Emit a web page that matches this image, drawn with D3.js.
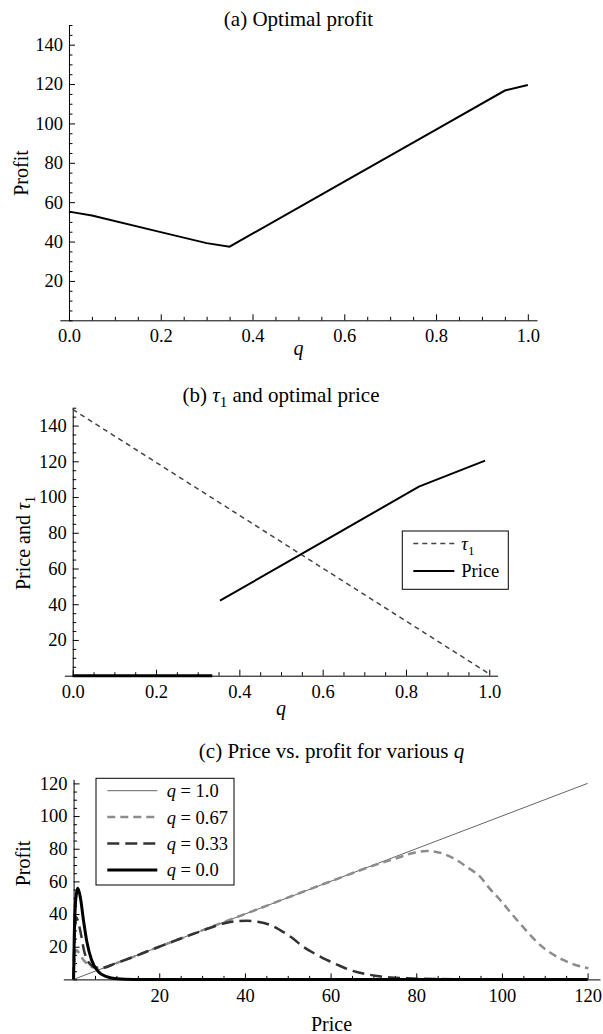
<!DOCTYPE html>
<html>
<head>
<meta charset="utf-8">
<script src="https://cdn.jsdelivr.net/npm/d3@7"></script>
<style>
  body { margin: 0; background: #fff; }
  svg text { font-family: 'Liberation Serif', 'Times New Roman', serif; fill: #000; }
</style>
</head>
<body>
<svg id="chart" width="603" height="1034"></svg>
<script>
// (a) optimal profit vs q
const qA = [0, 0.05, 0.2, 0.3, 0.35, 0.6, 0.8, 0.95, 1.0];
const profitA = [55.2, 53.2, 44.8, 39.2, 37.4, 70.5, 96.8, 116.7, 119.5];

// (b) tau1 and optimal price vs q
const qTau = [0, 1.0];
const tau1 = [149, 1];
const qPriceLow = [0, 0.335];
const priceLow = [0, 0];
const qPriceHigh = [0.3535, 0.5455, 0.831, 0.99];
const priceHigh = [42.0, 67.6, 105.8, 120.4];

// (c) price vs profit for various q
const priceQ10 = [0, 120];
const profitQ10 = [0, 120];
const priceQ067 = [0, 0.2, 0.6, 1.2, 2, 3, 4, 5, 6.5, 10, 20, 40, 60, 70, 75.4, 79, 82.4, 86, 89.4, 92, 94.9, 97, 99.6, 102, 104.2, 106.5, 108.9, 111.5, 114.3, 117, 120.2];
const profitQ067 = [0, 12, 18, 16.5, 13, 10, 8, 7, 7, 10, 20, 40, 60, 69.7, 74.2, 77.2, 78.6, 77.2, 73.1, 68.5, 62.9, 56, 48.6, 41, 34.3, 27.5, 21.1, 16, 11.9, 9, 6.8];
const priceQ033 = [0, 0.15, 0.35, 0.6, 1.0, 1.7, 2.5, 3.5, 5, 6.5, 10, 20, 30, 35, 38, 40.5, 43, 46, 48.2, 51, 53.6, 56.5, 59.1, 62, 64.5, 68, 70.8, 74, 77.8, 85, 100, 120];
const profitQ033 = [0, 20, 32, 38, 36, 28, 17, 10.5, 7.5, 7, 10, 20, 29.8, 34.2, 35.6, 35.9, 35.3, 33.2, 30.2, 25.5, 20.0, 15.5, 11.9, 8.5, 5.8, 3.4, 2.1, 1.2, 0.7, 0.2, 0, 0];
const priceQ0 = [0, 0.15, 0.4, 0.7, 1.0, 1.6, 2.3, 3.1, 4.2, 5.8, 7.7, 10.1, 14, 120];
const profitQ0 = [0, 25, 45, 53, 55.8, 50, 36.4, 23.1, 11.9, 4.7, 1.7, 0.4, 0, 0];

const qTicks = [0, 0.2, 0.4, 0.6, 0.8, 1.0];
const yTicksAB = [20, 40, 60, 80, 100, 120, 140];
const ticksC = [20, 40, 60, 80, 100, 120];
const legendB = ['τ1', 'Price'];
const legendC = ['1.0', '0.67', '0.33', '0.0'];

const svg = d3.select('#chart');
const zip = (xs, ys) => xs.map((v, i) => [v, ys[i]]);
const range = (a, b, s) => d3.range(a, b + s / 2, s);

function drawAxes(x, y, o) {
  const g = svg.append('g');
  // minor ticks first, then the major ones on top
  const minorX = range(o.minorX[0], o.minorX[1], o.minorX[2]).filter(v => !o.xTicks.some(t => Math.abs(t - v) < 1e-9));
  const minorY = range(o.minorY[0], o.minorY[1], o.minorY[2]).filter(v => !o.yTicks.some(t => Math.abs(t - v) < 1e-9));

  g.append('g').attr('transform', `translate(0,${y(0)})`)
    .call(d3.axisBottom(x).tickValues(minorX).tickSize(-3.5).tickFormat(''))
    .call(s => s.select('.domain').remove());
  g.append('g').attr('transform', `translate(${x(0)},0)`)
    .call(d3.axisLeft(y).tickValues(minorY).tickSize(-3.5).tickFormat(''))
    .call(s => s.select('.domain').remove());

  const xa = g.append('g').attr('transform', `translate(0,${y(0)})`)
    .call(d3.axisBottom(x).tickValues(o.xTicks).tickSize(-6).tickSizeOuter(0).tickPadding(9).tickFormat(o.xFmt));
  const ya = g.append('g').attr('transform', `translate(${x(0)},0)`)
    .call(d3.axisLeft(y).tickValues(o.yTicks).tickSize(-6).tickSizeOuter(0).tickPadding(6).tickFormat(d3.format('d')));

  [xa, ya].forEach(a => {
    a.selectAll('text').style('font-size', '18.5px').attr('fill', '#000');
    a.selectAll('line').attr('stroke', '#000');
    a.select('.domain').attr('stroke', '#000');
  });
  return g;
}

function title(x, y, parts) {
  const t = svg.append('text').attr('x', x).attr('y', y).attr('text-anchor', 'middle').style('font-size', '21px');
  parts.forEach(p => {
    const s = t.append('tspan').text(p.t);
    if (p.i) s.style('font-style', 'italic');
    if (p.sub) s.attr('dy', 5).style('font-size', '15px');
    if (p.up) s.attr('dy', -5);
  });
  return t;
}

function yLabel(cx, cy, parts) {
  const t = svg.append('text').attr('transform', `translate(${cx},${cy}) rotate(-90)`)
    .attr('text-anchor', 'middle').attr('dy', '0.35em').style('font-size', '20px');
  parts.forEach(p => {
    const s = t.append('tspan').text(p.t);
    if (p.i) s.style('font-style', 'italic');
    if (p.sub) s.attr('dy', 5).style('font-size', '14px');
  });
  return t;
}

// ---------- (a) ----------
{
  const x = d3.scaleLinear().domain([-0.02, 1.02]).range([59.8, 537]);
  const y = d3.scaleLinear().domain([0, 150]).range([320.3, 25]);
  drawAxes(x, y, { xTicks: qTicks, yTicks: yTicksAB, minorX: [0, 1, 0.05], minorY: [0, 150, 5], xFmt: d3.format('.1f') });

  const line = d3.line().x(d => x(d[0])).y(d => y(d[1]));
  svg.append('path').datum(zip(qA, profitA)).attr('d', line)
    .attr('fill', 'none').attr('stroke', '#000').attr('stroke-width', 2);

  title(298.5, 25.5, [{ t: '(a) Optimal profit' }]);
  yLabel(21, 173, [{ t: 'Profit' }]);
  svg.append('text').attr('x', x(0.5)).attr('y', 355).attr('text-anchor', 'middle')
    .style('font-size', '20px').style('font-style', 'italic').text('q');
}

// ---------- (b) ----------
{
  const x = d3.scaleLinear().domain([-0.02, 1.02]).range([64.4, 497.6]);
  const y = d3.scaleLinear().domain([0, 150]).range([675.7, 407.7]);
  drawAxes(x, y, { xTicks: qTicks, yTicks: yTicksAB, minorX: [0, 1, 0.05], minorY: [0, 150, 5], xFmt: d3.format('.1f') });

  const line = d3.line().x(d => x(d[0])).y(d => y(d[1]));
  svg.append('path').datum(zip(qTau, tau1)).attr('d', line)
    .attr('fill', 'none').attr('stroke', '#444').attr('stroke-width', 1.5).attr('stroke-dasharray', '5,4');
  svg.append('path').datum(zip(qPriceLow, priceLow)).attr('d', line)
    .attr('fill', 'none').attr('stroke', '#000').attr('stroke-width', 3);
  svg.append('path').datum(zip(qPriceHigh, priceHigh)).attr('d', line)
    .attr('fill', 'none').attr('stroke', '#000').attr('stroke-width', 2);

  title(281, 401.5, [{ t: '(b) ' }, { t: 'τ', i: true }, { t: '1', sub: true }, { t: ' and optimal price', up: true }]);
  yLabel(22.5, 543, [{ t: 'Price and ' }, { t: 'τ', i: true }, { t: '1', sub: true }]);
  svg.append('text').attr('x', x(0.5)).attr('y', 715).attr('text-anchor', 'middle')
    .style('font-size', '20px').style('font-style', 'italic').text('q');

  // legend
  const lg = svg.append('g').attr('transform', 'translate(402.3,531)');
  lg.append('rect').attr('width', 106).attr('height', 58.3).attr('fill', '#fff').attr('stroke', '#000').attr('stroke-width', 1);
  const styles = [{ c: '#444', w: 1.5, d: '5,4' }, { c: '#000', w: 2, d: null }];
  legendB.forEach((name, i) => {
    const yy = 12.5 + i * 27.5;
    lg.append('line').attr('x1', 11).attr('x2', 52).attr('y1', yy).attr('y2', yy)
      .attr('stroke', styles[i].c).attr('stroke-width', styles[i].w).attr('stroke-dasharray', styles[i].d);
    const t = lg.append('text').attr('x', 59).attr('y', yy).attr('dy', '0.35em').style('font-size', '18.5px');
    if (i === 0) {
      t.append('tspan').style('font-style', 'italic').text(name[0]);
      t.append('tspan').attr('dy', 5).style('font-size', '13px').text(name.slice(1));
    } else {
      t.text(name);
    }
  });
}

// ---------- (c) ----------
{
  const x = d3.scaleLinear().domain([-2.4, 122.9]).range([63.3, 600]);
  const y = d3.scaleLinear().domain([0, 122.5]).range([979.4, 779.3]);
  drawAxes(x, y, { xTicks: ticksC, yTicks: ticksC, minorX: [0, 120, 5], minorY: [0, 120, 5], xFmt: d3.format('d') });

  const line = d3.line().curve(d3.curveMonotoneX).x(d => x(d[0])).y(d => y(d[1]));
  const series = [
    { p: priceQ10, v: profitQ10, c: '#666', w: 1, d: null },
    { p: priceQ067, v: profitQ067, c: '#8c8c8c', w: 2.5, d: '8,5' },
    { p: priceQ033, v: profitQ033, c: '#333', w: 2.5, d: '12,6' },
    { p: priceQ0, v: profitQ0, c: '#000', w: 3, d: null }
  ];
  series.forEach(s => {
    svg.append('path').datum(zip(s.p, s.v)).attr('d', line)
      .attr('fill', 'none').attr('stroke', s.c).attr('stroke-width', s.w).attr('stroke-dasharray', s.d);
  });

  title(331.5, 758, [{ t: '(c) Price vs. profit for various ' }, { t: 'q', i: true }]);
  yLabel(23, 863.5, [{ t: 'Profit' }]);
  svg.append('text').attr('x', 331.5).attr('y', 1031).attr('text-anchor', 'middle')
    .style('font-size', '20px').text('Price');

  // legend
  const lg = svg.append('g').attr('transform', 'translate(96,778.3)');
  lg.append('rect').attr('width', 138).attr('height', 106.7).attr('fill', '#fff').attr('stroke', '#000').attr('stroke-width', 1);
  legendC.forEach((name, i) => {
    const s = series[i];
    const yy = 12.4 + i * 26.4;
    lg.append('line').attr('x1', 11.3).attr('x2', 61.3).attr('y1', yy).attr('y2', yy)
      .attr('stroke', s.c).attr('stroke-width', s.w).attr('stroke-dasharray', s.d);
    const t = lg.append('text').attr('x', 70.7).attr('y', yy).attr('dy', '0.35em').style('font-size', '18.5px');
    t.append('tspan').style('font-style', 'italic').text('q');
    t.append('tspan').text(' = ' + name);
  });
}
</script>
</body>
</html>
